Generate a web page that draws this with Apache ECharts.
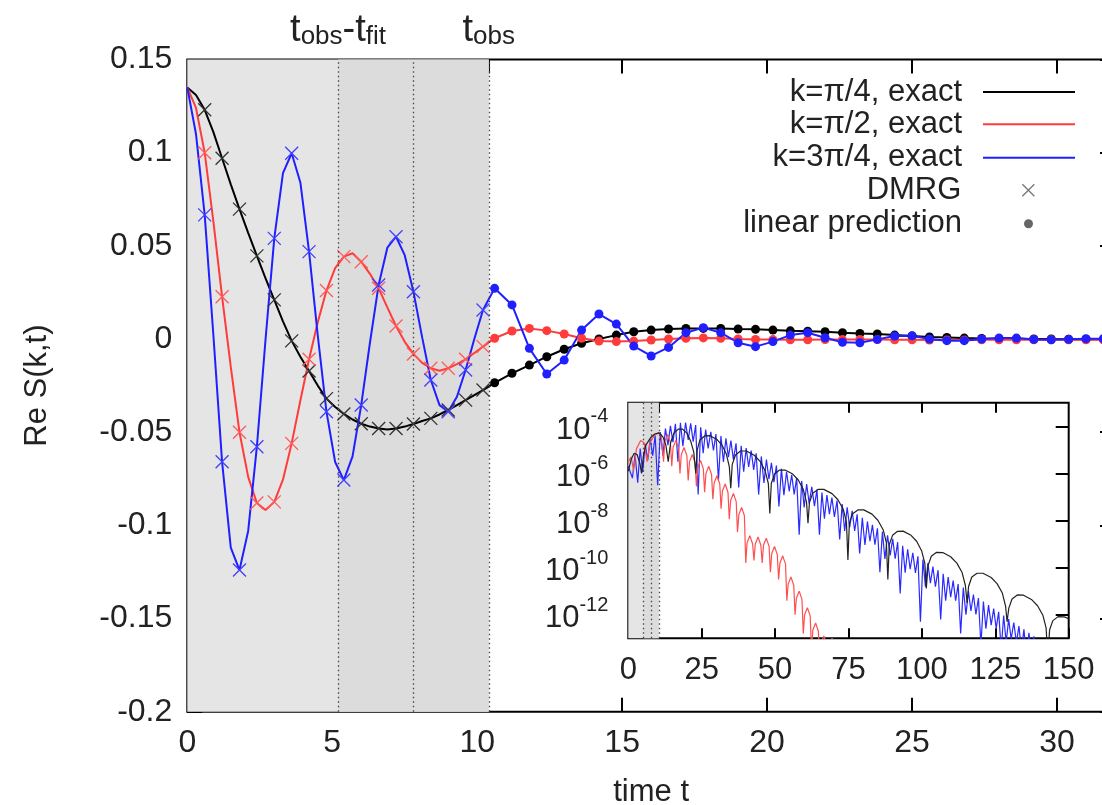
<!DOCTYPE html>
<html>
<head>
<meta charset="utf-8">
<style>
html, body { margin: 0; padding: 0; background: #fff; }
#main { width: 1102px; height: 805px; }
</style>
<script src="https://cdn.jsdelivr.net/npm/echarts@6/dist/echarts.min.js"></script>
</head>
<body>
<div id="main"></div>
<script>
// ---- main panel: Re S(k,t) ----
var tFit = 5.2, tMid = 7.8, tObs = 10.4

// exact curves up to t_obs (read every 0.3)
var exactT = [0, 0.3, 0.6, 0.9, 1.2, 1.5, 1.8, 2.1, 2.4, 2.7, 3.0, 3.3, 3.6, 3.9, 4.2, 4.5, 4.8, 5.1,
    5.4, 5.7, 6.0, 6.3, 6.6, 6.9, 7.2, 7.5, 7.8, 8.1, 8.4, 8.7, 9.0, 9.3, 9.6, 9.9, 10.2]
var exactK1 = [0.135, 0.131, 0.123, 0.111, 0.097, 0.083, 0.0697, 0.057, 0.0446, 0.0325, 0.021, 0.0095,
    -0.001, -0.0095, -0.0172, -0.025, -0.032, -0.0365, -0.0402, -0.0432, -0.0455, -0.047, -0.048, -0.0485,
    -0.048, -0.047, -0.0456, -0.044, -0.0426, -0.0405, -0.0381, -0.0355, -0.0328, -0.0301, -0.0274]
var exactK2 = [0.135, 0.124, 0.100, 0.063, 0.0227, -0.015, -0.050, -0.074, -0.088, -0.0918, -0.0874, -0.0755,
    -0.056, -0.033, -0.0109, 0.009, 0.026, 0.038, 0.0442, 0.046, 0.0415, 0.035, 0.0272, 0.017,
    0.007, -0.0015, -0.008, -0.0128, -0.0157, -0.017, -0.0157, -0.0135, -0.0109, -0.0075, -0.0041]
var exactK3 = [0.135, 0.11, 0.0666, 0.002, -0.0659, -0.112, -0.124, -0.103, -0.0578, 0.0, 0.054, 0.089,
    0.0997, 0.084, 0.0469, 0.002, -0.039, -0.066, -0.0757, -0.063, -0.0354, -0.002, 0.029, 0.049,
    0.0549, 0.045, 0.0254, 0.001, -0.022, -0.0355, -0.039, -0.031, -0.0166, 0.0, 0.0156]

// DMRG points
var dmrgT = [0.6, 1.2, 1.8, 2.4, 3.0, 3.6, 4.2, 4.8, 5.4, 6.0, 6.6, 7.2, 7.8, 8.4, 9.0, 9.6, 10.2]
var dmrgK1 = [0.123, 0.097, 0.0697, 0.0446, 0.021, -0.001, -0.0172, -0.032, -0.0402, -0.0455, -0.048,
    -0.048, -0.0456, -0.0426, -0.0381, -0.0328, -0.0274]
var dmrgK2 = [0.100, 0.0227, -0.050, -0.088, -0.0874, -0.056, -0.0109, 0.026, 0.0442, 0.0415, 0.0272,
    0.007, -0.008, -0.0157, -0.0157, -0.0109, -0.0041]
var dmrgK3 = [0.0666, -0.0659, -0.124, -0.0578, 0.054, 0.0997, 0.0469, -0.039, -0.0757, -0.0354, 0.029,
    0.0549, 0.0254, -0.022, -0.039, -0.0166, 0.0156]

// linear prediction points
var predT = [10.6, 11.2, 11.8, 12.4, 13.0, 13.6, 14.2, 14.8, 15.4, 16.0, 16.6, 17.2, 17.8, 18.4, 19.0, 19.6,
    20.2, 20.8, 21.4, 22.0, 22.6, 23.2, 23.8, 24.4, 25.0, 25.6, 26.2, 26.8, 27.4, 28.0, 28.6, 29.2, 29.8,
    30.4, 31.0, 31.6]
var predK1 = [-0.0235, -0.0184, -0.014, -0.0095, -0.0055, -0.0023, 0.0, 0.0021, 0.0039, 0.0048, 0.0054, 0.0057,
    0.0057, 0.0057, 0.0054, 0.0052, 0.0048, 0.0044, 0.0042, 0.0039, 0.0034, 0.003, 0.0027, 0.0021,
    0.0016, 0.0011, 0.0008, 0.0005, 0.0003, 0.0002, 0.0001, 0.0, 0.0, -0.0001, -0.0001, -0.0001]
var predK2 = [0.0004, 0.0043, 0.0057, 0.0045, 0.0027, 0.0004, -0.0011, -0.0014, -0.0011, -0.0005, 0.0, 0.0004,
    0.0006, 0.0004, 0.0, -0.0002, -0.0003, -0.0004, -0.0004, -0.0003, -0.0003, -0.0002, -0.0003, -0.0004,
    -0.0004, -0.0005, -0.0005, -0.0005, -0.0004, -0.0004, -0.0004, -0.0004, -0.0004, -0.0004, -0.0004, -0.0004]
var predK3 = [0.0272, 0.0183, -0.005, -0.0188, -0.0113, 0.0048, 0.0134, 0.008, -0.0038, -0.0091, -0.0045, 0.0034,
    0.0061, 0.0034, -0.002, -0.0041, -0.0014, 0.0021, 0.0034, 0.0007, -0.0018, -0.002, -0.0002, 0.0016,
    0.0017, 0.0, -0.0009, -0.0009, 0.0, 0.0005, 0.0005, -0.0002, -0.0004, -0.0001, 0.0002, 0.0002]

// ---- inset: log10 of the deviation, [t, exponent] ----
var insetK1 = [
    [0, -5.9], [1, -5.4], [2, -5.15], [3, -5.2], [4, -5.6], [4.5, -6.0], [5.2, -5.2], [6, -4.8], [7.5, -4.5],
    [9, -4.33], [10.5, -4.28], [11.8, -4.45], [12.8, -4.8], [13.6, -5.5], [14.4, -4.7], [15.5, -4.3], [17, -4.12],
    [18.5, -4.12], [20, -4.3], [21.3, -4.65], [22.3, -5.1], [23.0, -6.0],
    [23.5, -4.99], [24.4, -4.58], [26.0, -4.41], [27.8, -4.40], [30.1, -4.55], [31.9, -4.80], [33.4, -5.18], [34.4, -5.71], [34.9, -6.63],
    [35.4, -5.62], [36.5, -5.22], [38.2, -5.05], [40.2, -5.05], [42.9, -5.23], [44.9, -5.49], [46.6, -5.89], [47.7, -6.43], [48.2, -7.7],
    [48.7, -6.43], [49.8, -6.03], [51.5, -5.86], [53.4, -5.86], [56.0, -6.03], [57.9, -6.28], [59.6, -6.68], [60.7, -7.22], [61.2, -8.12],
    [61.7, -7.24], [62.8, -6.84], [64.6, -6.68], [66.6, -6.68], [69.4, -6.86], [71.4, -7.12], [73.2, -7.52], [74.3, -8.07], [74.8, -9.68],
    [75.3, -8.11], [76.4, -7.71], [78.2, -7.55], [80.2, -7.55], [83.0, -7.73], [85.0, -7.99], [86.8, -8.39], [87.9, -8.94], [88.4, -10.5],
    [88.9, -9.02], [90.0, -8.63], [91.7, -8.46], [93.6, -8.45], [96.3, -8.63], [98.2, -8.88], [99.9, -9.28], [101.0, -9.82], [101.5, -10.88],
    [102.1, -9.91], [103.2, -9.52], [105.0, -9.35], [107.1, -9.36], [109.8, -9.54], [111.9, -9.81], [113.7, -10.21], [114.8, -10.75], [115.4, -11.5],
    [115.9, -10.80], [117.0, -10.40], [118.8, -10.24], [120.8, -10.24], [123.6, -10.42], [125.6, -10.68], [127.4, -11.08], [128.5, -11.63], [129.0, -12.3],
    [129.6, -11.72], [130.7, -11.33], [132.5, -11.16], [134.6, -11.17], [137.3, -11.35], [139.4, -11.62], [141.2, -12.02], [142.3, -12.56], [142.9, -13.8],
    [143.5, -12.64], [144.6, -12.25], [146.4, -12.08], [148.5, -12.09], [150, -12.17]
]
var insetK2 = [
    [0, -5.5], [1.0, -5.3], [1.8, -5.9], [2.8, -4.95], [4.2, -4.6], [5.4, -4.7], [6.4, -5.5], [7.4, -4.7],
    [8.8, -4.4], [10.2, -4.28], [11.2, -4.35], [12.0, -5.5],
    [12.45, -4.65], [13.4, -4.35], [14.35, -4.7], [14.8, -5.7],
    [15.25, -4.9], [16.2, -4.6], [17.15, -4.95], [17.6, -6.0],
    [18.05, -5.2], [19.0, -4.9], [19.95, -5.25], [20.4, -6.3],
    [20.85, -5.5], [21.8, -5.2], [22.75, -5.55], [23.2, -6.55],
    [23.65, -5.75], [24.6, -5.45], [25.55, -5.8], [26.0, -6.8],
    [26.45, -6.0], [27.4, -5.7], [28.35, -6.05], [28.8, -7.1],
    [29.25, -6.4], [30.2, -6.1], [31.15, -6.45], [31.6, -7.5],
    [32.05, -6.75], [33.0, -6.45], [33.95, -6.8], [34.4, -7.95],
    [34.85, -7.15], [35.8, -6.85], [36.75, -7.2], [37.2, -8.5],
    [37.65, -7.75], [38.6, -7.45], [39.55, -7.8], [40.0, -9.8],
    [40.45, -8.95], [41.4, -8.65], [42.35, -9.0], [42.8, -9.7],
    [43.25, -9.0], [44.2, -8.7], [45.15, -9.05], [45.6, -9.8],
    [46.05, -9.05], [47.0, -8.75], [47.95, -9.1], [48.4, -10.2],
    [48.85, -9.4], [49.8, -9.1], [50.75, -9.45], [51.2, -10.5],
    [51.65, -9.8], [52.6, -9.5], [53.55, -9.85], [54.0, -11.4],
    [54.45, -10.7], [55.4, -10.4], [56.35, -10.75], [56.8, -12.0],
    [57.25, -11.3], [58.2, -11.0], [59.15, -11.35], [59.6, -12.8],
    [60.05, -12.0], [61.0, -11.7], [61.95, -12.05], [62.4, -13.5],
    [62.85, -12.65], [63.8, -12.35], [64.75, -12.7], [65.2, -14],
    [65.65, -13.2], [66.6, -12.9], [67.55, -13.25], [68.0, -14],
    [68.45, -13.3], [69.4, -13.0], [70.35, -13.35], [70.8, -14]
]
var insetK3 = [
    [0, -5.7], [1.4, -6.2], [2.3, -5.2], [3.2, -6.4], [4.05, -4.95], [4.9, -5.95], [5.75, -4.75], [6.6, -5.45],
    [7.45, -4.55], [8.3, -5.25], [9.15, -4.4], [10.0, -6.5], [10.9, -4.25], [11.8, -5.25], [12.65, -4.1], [13.5, -4.8],
    [14.35, -3.98], [15.2, -4.68], [16.05, -3.9], [16.9, -5.5], [17.75, -3.85], [18.6, -4.85], [19.5, -3.84], [20.4, -4.58],
    [21.25, -3.88], [22.1, -4.65], [22.95, -3.95], [23.8, -6.9], [24.65, -4.04], [25.5, -5.14], [26.35, -4.14], [27.2, -4.94],
    [28.1, -4.24], [29.0, -5.03], [29.85, -4.33], [30.7, -6.3], [31.55, -4.42], [32.4, -5.51], [33.25, -4.51], [34.1, -5.31],
    [34.95, -4.61], [35.8, -5.42], [36.7, -4.72], [37.6, -6.6], [38.45, -4.83], [39.3, -5.93], [40.15, -4.93], [41.0, -5.73],
    [41.85, -5.03], [42.7, -5.85], [43.55, -5.15], [44.4, -6.9], [45.3, -5.28], [46.2, -6.41], [47.05, -5.41], [47.9, -6.25],
    [48.75, -5.55], [49.6, -6.37], [50.45, -5.67], [51.3, -7.4], [52.15, -5.8], [53.0, -6.93], [53.9, -5.93], [54.8, -6.76],
    [55.65, -6.06], [56.5, -6.89], [57.35, -6.19], [58.2, -8.6], [59.05, -6.32], [59.9, -7.45], [60.75, -6.45], [61.6, -7.27],
    [62.5, -6.57], [63.4, -7.39], [64.25, -6.69], [65.1, -8.6], [65.95, -6.81], [66.8, -7.92], [67.65, -6.92], [68.5, -7.73],
    [69.35, -7.03], [70.2, -7.85], [71.1, -7.15], [72.0, -8.8], [72.85, -7.3], [73.7, -8.44], [74.55, -7.44], [75.4, -8.29],
    [76.25, -7.59], [77.1, -8.44], [77.95, -7.74], [78.8, -9.4], [79.7, -7.89], [80.6, -9.04], [81.45, -8.04], [82.3, -8.88],
    [83.15, -8.18], [84.0, -9.03], [84.85, -8.33], [85.7, -10.2], [86.55, -8.48], [87.4, -9.63], [88.3, -8.63], [89.2, -9.48],
    [90.05, -8.78], [90.9, -9.62], [91.75, -8.92], [92.6, -11.1], [93.45, -9.07], [94.3, -10.22], [95.15, -9.22], [96.0, -10.07],
    [96.9, -9.37], [97.8, -10.22], [98.65, -9.52], [99.5, -12.3], [100.35, -9.66], [101.2, -10.81], [102.05, -9.81], [102.9, -10.66],
    [103.75, -9.96], [104.6, -10.81], [105.5, -10.11], [106.4, -12.2], [107.25, -10.26], [108.1, -11.4], [108.95, -10.4], [109.8, -11.25],
    [110.65, -10.55], [111.5, -11.4], [112.35, -10.7], [113.2, -12.8], [114.1, -10.85], [115.0, -12.0], [115.85, -11.0], [116.7, -11.84],
    [117.55, -11.14], [118.4, -11.99], [119.25, -11.29], [120.1, -13.3], [120.95, -11.44], [121.8, -12.59], [122.7, -11.59], [123.6, -12.44],
    [124.45, -11.74], [125.3, -12.58], [126.15, -11.88], [127.0, -13.5], [127.85, -12.03], [128.7, -13.18], [129.55, -12.18], [130.4, -13.03],
    [131.3, -12.33], [132.2, -13.18], [133.05, -12.48], [133.9, -13.5], [134.75, -12.62], [135.6, -13.77], [136.45, -12.77], [137.3, -13.62],
    [138.15, -12.92], [139.0, -13.6], [140, -13.5]
]
var insetYTicks = [-12, -10, -8, -6, -4]

function pairs(xs, ys) {
    return xs.map(function (x, i) { return [x, ys[i]] })
}

var font = 'Liberation Sans, Arial, sans-serif'
var cross = 'path://M0,0L10,10M10,0L0,10'
var cBlack = '#000', cRed = '#ff3b3b', cBlue = '#1f1fff'

// one legend per row so icons line up on the right and texts end at the same x
function legendBox(name, top, right, icon, w, h, pad, style) {
    return {
        data: [{ name: name, icon: icon, itemStyle: style }],
        orient: 'vertical', align: 'right', right: right, top: top, padding: 0,
        itemWidth: w, itemHeight: h, selectedMode: false, symbolKeepAspect: true,
        textStyle: { fontFamily: font, fontSize: 31, color: '#222', lineHeight: 34, padding: [0, pad, 0, 0] }
    }
}

var tickStyle = { color: '#000', width: 2 }
var labelStyle = { fontFamily: font, fontSize: 32, color: '#222' }
var insetLabelStyle = { fontFamily: font, fontSize: 31, color: '#222' }

var myChart = echarts.init(document.getElementById('main'))
var option = {
    animation: false,
    backgroundColor: '#fff',
    textStyle: { fontFamily: font },
    legend: [
        legendBox('k=π/4, exact', 75, 27, 'rect', 92, 2, 16, { color: cBlack, borderWidth: 0 }),
        legendBox('k=π/2, exact', 107.3, 27, 'rect', 92, 2, 16, { color: cRed, borderWidth: 0 }),
        legendBox('k=3π/4, exact', 140.7, 27, 'rect', 92, 2, 16, { color: cBlue, borderWidth: 0 }),
        legendBox('DMRG', 173.3, 67, cross, 12, 12, 56, { color: 'transparent', borderColor: '#777', borderWidth: 1.3 }),
        legendBox('linear prediction', 206.7, 69, 'circle', 9, 9, 57, { color: '#666', borderWidth: 0 })
    ],
    grid: [
        { left: 187.3, top: 59.5, right: -13, bottom: 93.3, show: true, borderColor: '#000', borderWidth: 2,
          outerBoundsMode: 'none', containLabel: false },
        { left: 628.3, top: 402.7, right: 33.3, bottom: 166.7, show: true, borderColor: '#000', borderWidth: 2,
          backgroundColor: '#fff', outerBoundsMode: 'none', containLabel: false }
    ],
    xAxis: [
        { gridIndex: 0, type: 'value', min: 0, max: 32, interval: 5,
          name: 'time t', nameLocation: 'middle', nameGap: 65,
          nameTextStyle: { fontFamily: font, fontSize: 31, color: '#222' },
          axisLine: { show: false, onZero: false }, splitLine: { show: false },
          axisTick: { inside: true, length: 14, lineStyle: tickStyle },
          axisLabel: Object.assign({ margin: 15, showMaxLabel: false }, labelStyle) },
        { gridIndex: 0, type: 'value', position: 'top', min: 0, max: 32,
          axisLine: { show: false, onZero: false }, splitLine: { show: false },
          axisTick: { inside: true, length: 14, lineStyle: tickStyle,
                      customValues: [5, tFit, tMid, 10, tObs, 15, 20, 25, 30] },
          axisLabel: { customValues: [tFit, tObs], margin: 10, fontFamily: font, fontSize: 38, color: '#222',
                       formatter: function (v) { return Math.abs(v - tFit) < 0.01 ? 't{s|obs}-t{s|fit}' : 't{s|obs}' },
                       rich: { s: { fontFamily: font, fontSize: 26, color: '#222', verticalAlign: 'bottom' } } } },
        { gridIndex: 1, type: 'value', min: 0, max: 150, interval: 25,
          axisLine: { show: false, onZero: false }, splitLine: { show: false },
          axisTick: { inside: true, length: 10, lineStyle: tickStyle },
          axisLabel: Object.assign({ margin: 17 }, insetLabelStyle) },
        { gridIndex: 1, type: 'value', position: 'top', min: 0, max: 150,
          axisLine: { show: false, onZero: false }, splitLine: { show: false },
          axisTick: { inside: true, length: 10, lineStyle: tickStyle,
                      customValues: [tFit, tMid, tObs, 25, 50, 75, 100, 125] },
          axisLabel: { show: false } }
    ],
    yAxis: [
        { gridIndex: 0, type: 'value', min: -0.2, max: 0.15, interval: 0.05,
          name: 'Re S(k,t)', nameLocation: 'middle', nameGap: 134, nameRotate: 90,
          nameTextStyle: { fontFamily: font, fontSize: 31, color: '#222' },
          axisLine: { show: false, onZero: false }, splitLine: { show: false },
          axisTick: { inside: true, length: 15, lineStyle: tickStyle },
          axisLabel: Object.assign({ margin: 15 }, labelStyle) },
        { gridIndex: 0, type: 'value', position: 'right', min: -0.2, max: 0.15, interval: 0.05,
          axisLine: { show: false, onZero: false }, splitLine: { show: false },
          axisTick: { inside: true, length: 15, lineStyle: tickStyle },
          axisLabel: { show: false } },
        { gridIndex: 1, type: 'value', min: -13, max: -3,
          axisLine: { show: false, onZero: false }, splitLine: { show: false },
          axisTick: { inside: true, length: 13, lineStyle: tickStyle, customValues: insetYTicks },
          axisLabel: { customValues: insetYTicks, margin: 20, fontFamily: font, fontSize: 31, color: '#222',
                       formatter: function (v) { return '{b|10}{s|' + v + '}' },
                       rich: { b: { fontFamily: font, fontSize: 31, color: '#222', padding: [8, 0, 0, 0] },
                               s: { fontFamily: font, fontSize: 20, color: '#222', verticalAlign: 'top' } } } },
        { gridIndex: 1, type: 'value', position: 'right', min: -13, max: -3,
          axisLine: { show: false, onZero: false }, splitLine: { show: false },
          axisTick: { inside: true, length: 13, lineStyle: tickStyle, customValues: insetYTicks },
          axisLabel: { show: false } }
    ],
    series: []
}

// shaded fit window and the dotted markers, main panel and inset
function shade(xi, yi, z) {
    return {
        type: 'line', xAxisIndex: xi, yAxisIndex: yi, data: [], z: z, silent: true,
        markArea: { silent: true, data: [
            [{ xAxis: 0, itemStyle: { color: '#e5e5e5' } }, { xAxis: tObs }],
            [{ xAxis: tFit, itemStyle: { color: '#dcdcdc' } }, { xAxis: tObs }]
        ] },
        markLine: { silent: true, symbol: 'none', label: { show: false },
            lineStyle: { color: '#444', type: [1.5, 3], width: 1.3 },
            data: [{ xAxis: tFit }, { xAxis: tMid }, { xAxis: tObs }] }
    }
}
option.series.push(shade(0, 0, 1))
option.series.push(shade(2, 2, 6))

var colors = [cBlack, cRed, cBlue]
var names = ['k=π/4, exact', 'k=π/2, exact', 'k=3π/4, exact']
var exact = [exactK1, exactK2, exactK3]
var preds = [predK1, predK2, predK3]
var dmrgs = [dmrgK1, dmrgK2, dmrgK3]
var crossColors = ['#333', '#ff5a5a', '#4040ff']

for (var i = 0; i < 3; i++) {
    option.series.push({
        name: names[i], type: 'line', xAxisIndex: 0, yAxisIndex: 0,
        data: pairs(exactT, exact[i]).concat(pairs(predT, preds[i])),
        symbol: 'none', lineStyle: { color: colors[i], width: 2 }, itemStyle: { color: colors[i] }, z: 3
    })
}
for (var i = 0; i < 3; i++) {
    option.series.push({
        name: 'DMRG', type: 'scatter', xAxisIndex: 0, yAxisIndex: 0,
        data: pairs(dmrgT, dmrgs[i]), symbol: cross, symbolSize: 13,
        itemStyle: { color: 'transparent', borderColor: crossColors[i], borderWidth: 1.3, opacity: 1 }, z: 4
    })
}
for (var i = 0; i < 3; i++) {
    option.series.push({
        name: 'linear prediction', type: 'scatter', xAxisIndex: 0, yAxisIndex: 0,
        data: pairs(predT, preds[i]), symbol: 'circle', symbolSize: 9,
        itemStyle: { color: colors[i], opacity: 1 }, z: 5
    })
}

// inset curves
var insetLines = [[insetK3, '#2a2aff'], [insetK2, '#ff5050'], [insetK1, '#222']]
insetLines.forEach(function (l, j) {
    option.series.push({
        name: 'inset' + j, type: 'line', xAxisIndex: 2, yAxisIndex: 2, data: l[0],
        symbol: 'none', lineStyle: { color: l[1], width: 1.2 }, z: 7 + j
    })
})

myChart.setOption(option)
</script>
</body>
</html>
